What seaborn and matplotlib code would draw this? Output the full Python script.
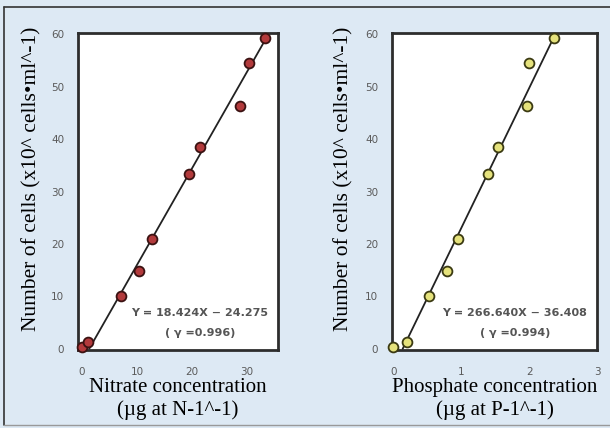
import matplotlib
matplotlib.use("Agg")
import matplotlib.pyplot as plt
from matplotlib.lines import Line2D
from matplotlib.ticker import MultipleLocator
import numpy as np
import pandas as pd
import seaborn as sns

# cell counts (x10^4 cells/ml), shared by both panels
cells = [0.3, 1.3, 10.0, 14.8, 21.0, 33.3, 38.5, 46.2, 54.5, 59.3]
nitrate = [0.1, 1.1, 7.1, 10.4, 12.8, 19.5, 21.5, 28.7, 30.4, 33.3]
phosphate = [0.0, 0.2, 0.52, 0.79, 0.95, 1.39, 1.54, 1.97, 2.0, 2.36]

# regression lines as printed (scaled to the plotted units)
nit_fit = (1.8424, -2.4275)
pho_fit = (26.664, -3.6408)

nit_eq = ["Y = 18.424X \u2212 24.275", "( \u03b3 =0.996)"]
pho_eq = ["Y = 266.640X \u2212 36.408", "( \u03b3 =0.994)"]

ylab = "Number of cells (x10^ cells\u2022ml^-1)"
nit_xlab = "Nitrate concentration\n(\u00b5g at N-1^-1)"
pho_xlab = "Phosphate concentration\n(\u00b5g at P-1^-1)"

sns.set_theme(style="white")
plt.rcParams["font.family"] = ["DejaVu Sans"]

BG = "#dde9f4"
fig = plt.figure(figsize=(6.1, 4.28), dpi=100, facecolor=BG)

# picture frame (left/top/bottom edges)
fig.add_artist(Line2D([4 / 610, 4 / 610], [3 / 428, 421 / 428], color="#333333", lw=1.2))
fig.add_artist(Line2D([4 / 610, 1.0], [421 / 428, 421 / 428], color="#333333", lw=1.2))
fig.add_artist(Line2D([4 / 610, 1.0], [3 / 428, 3 / 428], color="#999999", lw=1.0))


def panel(rect, x, fit, xlim, major, minor, fill, edge, eq, xlabel, eq_x, ylab_x):
    ax = fig.add_axes(rect)
    ax.set_facecolor("white")
    df = pd.DataFrame({"conc": x, "cells": cells})

    slope, icpt = fit
    x0 = -icpt / slope
    x1 = (60 - icpt) / slope
    line = pd.DataFrame({"conc": [x0, x1], "cells": [slope * x0 + icpt, slope * x1 + icpt]})
    sns.lineplot(data=line, x="conc", y="cells", color="#222222", lw=1.3, ax=ax)
    sns.scatterplot(data=df, x="conc", y="cells", color=fill, edgecolor=edge,
                    linewidth=1.3, s=50, clip_on=False, zorder=3, ax=ax)

    ax.set_xlim(*xlim)
    ax.set_ylim(-0.2, 60.2)
    ax.xaxis.set_major_locator(MultipleLocator(major))
    ax.xaxis.set_minor_locator(MultipleLocator(minor))
    ax.yaxis.set_major_locator(MultipleLocator(10))
    ax.tick_params(axis="both", which="both", direction="in", length=4,
                   width=1, color="#444444", labelsize=7.5, labelcolor="#5a5a5a")
    ax.tick_params(axis="x", pad=12)
    ax.tick_params(axis="y", pad=10)
    for sp in ax.spines.values():
        sp.set_color("#2d2d2d")
        sp.set_linewidth(2)

    ax.set_ylabel(ylab, family="Liberation Serif", fontsize=15.5, color="black")
    ax.yaxis.set_label_coords(ylab_x, 0.54)
    ax.set_xlabel(xlabel, family="Liberation Serif", fontsize=15,
                  color="black", linespacing=1.2, va="top")
    ax.xaxis.set_label_coords(0.5, -0.088)

    ax.text(eq_x, 0.117, eq[0], transform=ax.transAxes, ha="center", va="center",
            fontsize=8, color="#555555", fontweight="bold")
    ax.text(eq_x, 0.054, eq[1], transform=ax.transAxes, ha="center", va="center",
            fontsize=8, color="#555555", fontweight="bold")
    return ax


panel([78 / 610, 78 / 428, 200 / 610, 317 / 428], nitrate, nit_fit, (-0.7, 35.6),
      10, 5, "#b23a3c", "#3b1212", nit_eq, nit_xlab, 0.61, -0.185)
panel([392 / 610, 78 / 428, 205 / 610, 317 / 428], phosphate, pho_fit, (-0.02, 3.0),
      1, 0.5, "#e5e27c", "#3b3a12", pho_eq, pho_xlab, 0.60, -0.19)

fig.savefig("out.png", dpi=100, facecolor=BG)
